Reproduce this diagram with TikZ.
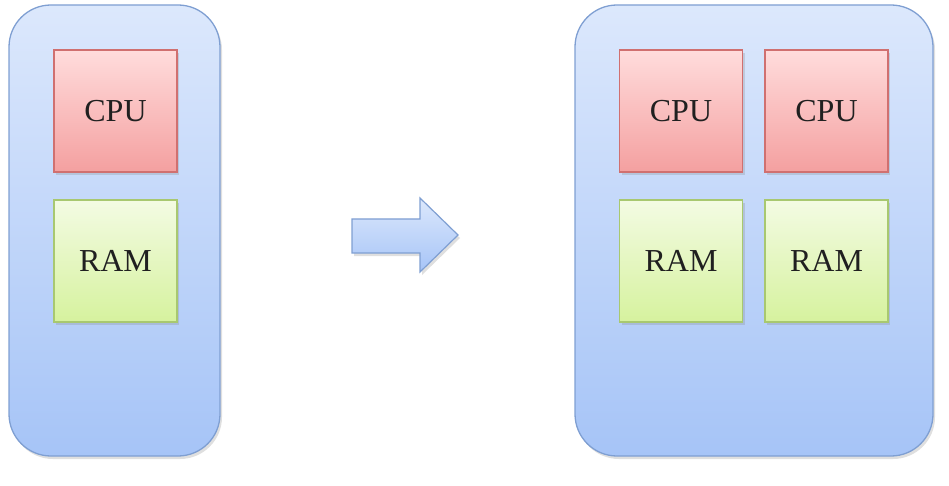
\documentclass[tikz,border=0pt]{standalone}
\usepackage{fontspec}
\setmainfont{Liberation Serif}
\usetikzlibrary{shadows}
\definecolor{boxtop}{HTML}{DCE8FC}
\definecolor{boxbot}{HTML}{A6C4F7}
\definecolor{boxline}{HTML}{7F9FD2}
\definecolor{cputop}{HTML}{FFDCDC}
\definecolor{cpubot}{HTML}{F4A0A0}
\definecolor{cpuline}{HTML}{D07070}
\definecolor{ramtop}{HTML}{F3FBE3}
\definecolor{rambot}{HTML}{D6F29E}
\definecolor{ramline}{HTML}{A8C870}
\definecolor{txt}{HTML}{202020}
\tikzset{
  server/.style={draw=boxline, line width=1.3pt, rounded corners=42pt, top color=boxtop, bottom color=boxbot,
    drop shadow={opacity=0.25, shadow xshift=2pt, shadow yshift=-3pt}},
  cpubox/.style={draw=cpuline, line width=1.3pt, top color=cputop, bottom color=cpubot,
    minimum width=123pt, minimum height=122pt, inner sep=0pt, text=txt, font=\fontsize{32}{36}\selectfont,
    drop shadow={opacity=0.25, shadow xshift=2pt, shadow yshift=-3pt}},
  rambox/.style={cpubox, draw=ramline, top color=ramtop, bottom color=rambot},
  bigarrow/.style={draw=boxline, line width=1.2pt, top color=boxtop, bottom color=boxbot,
    drop shadow={opacity=0.25, shadow xshift=2pt, shadow yshift=-3pt}}
}
\begin{document}
\begin{tikzpicture}[x=1pt,y=-1pt]
\useasboundingbox (0,0) rectangle (949,486);
\node[server, minimum width=211pt, minimum height=451pt] (left) at (114.5,230.5) {};
\node[server, minimum width=358pt, minimum height=451pt] (right) at (754,230.5) {};
\node[cpubox] (cpu0) at (115.5,111) {CPU};
\node[rambox] (ram0) at (115.5,261) {RAM};
\node[cpubox] (cpu1) at (681,111) {CPU};
\node[cpubox] (cpu2) at (826.5,111) {CPU};
\node[rambox] (ram1) at (681,261) {RAM};
\node[rambox] (ram2) at (826.5,261) {RAM};
\path[bigarrow] (352,219) -- (420,219) -- (420,198) -- (458,235) -- (420,272) -- (420,253) -- (352,253) -- cycle;
\end{tikzpicture}
\end{document}
